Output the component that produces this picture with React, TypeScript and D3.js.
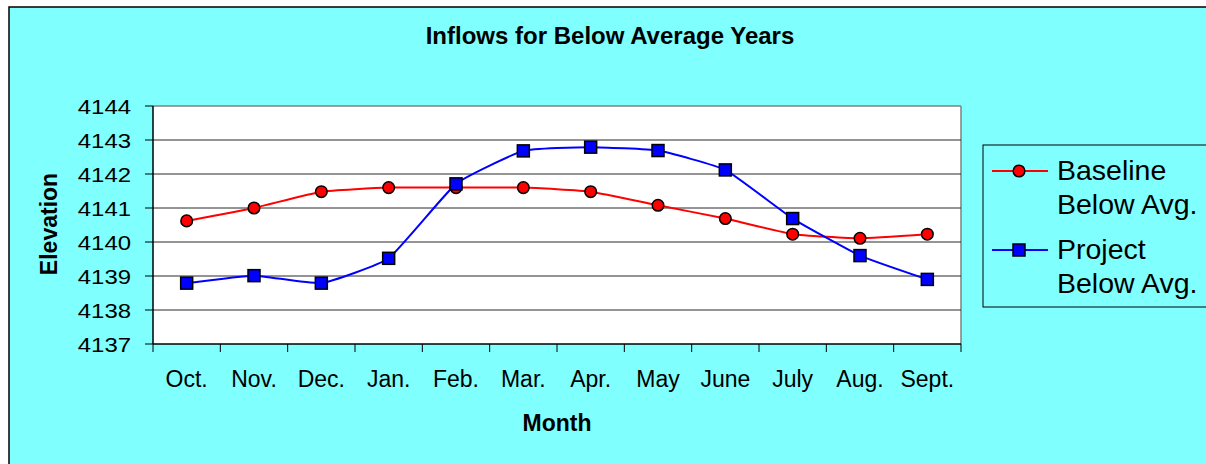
import React from 'react';
import * as d3 from 'd3';

const months = ['Oct.', 'Nov.', 'Dec.', 'Jan.', 'Feb.', 'Mar.', 'Apr.', 'May', 'June', 'July', 'Aug.', 'Sept.'];
const baseline = [4140.62, 4141.0, 4141.48, 4141.6, 4141.6, 4141.6, 4141.48, 4141.08, 4140.69, 4140.23, 4140.11, 4140.23];
const project = [4138.79, 4139.01, 4138.79, 4139.52, 4141.71, 4142.68, 4142.79, 4142.69, 4142.12, 4140.69, 4139.6, 4138.9];
const yTicks = [4137, 4138, 4139, 4140, 4141, 4142, 4143, 4144];
const legendLabels = [['Baseline', 'Below Avg.'], ['Project', 'Below Avg.']];

const W = 1206;
const H = 464;
const plot = { left: 153, right: 961, top: 106, bottom: 344 };
const font = '"Liberation Sans", Arial, sans-serif';

const App = () => {
  const x = d3.scaleBand().domain(months).range([plot.left, plot.right]).padding(0);
  const y = d3.scaleLinear().domain([4137, 4144]).range([plot.bottom, plot.top]);
  const cx = (m: string) => (x(m) as number) + x.bandwidth() / 2;

  // excel-style light smoothing
  const line = d3
    .line<number>()
    .x((_, i) => cx(months[i]))
    .y((d) => y(d))
    .curve(d3.curveCardinal.tension(0.6));

  const boundaries = months.map((m) => x(m) as number).concat([plot.right]);

  return (
    <svg width={W} height={H} style={{ position: 'absolute', left: 0, top: 0 }} fontFamily={font}>
      {/* chart area */}
      <rect x={9} y={7} width={W + 20} height={H + 20} fill="#80FFFF" stroke="#000" strokeWidth={1.5} />

      <text x={610} y={44} textAnchor="middle" fontSize={24} fontWeight="bold">
        Inflows for Below Average Years
      </text>

      {/* plot area */}
      <rect x={plot.left} y={plot.top} width={plot.right - plot.left} height={plot.bottom - plot.top} fill="#fff" />
      <line x1={plot.left} x2={plot.right} y1={plot.top} y2={plot.top} stroke="#808080" strokeWidth={1.5} />
      <line x1={plot.right} x2={plot.right} y1={plot.top} y2={plot.bottom} stroke="#808080" strokeWidth={1.5} />

      {yTicks.slice(1, -1).map((t) => (
        <line key={t} x1={plot.left} x2={plot.right} y1={y(t)} y2={y(t)} stroke="#2a2a2a" strokeWidth={1} />
      ))}

      {/* y axis */}
      <line x1={plot.left} x2={plot.left} y1={plot.top} y2={plot.bottom} stroke="#000" strokeWidth={1.5} />
      {yTicks.map((t) => (
        <g key={t}>
          <line x1={plot.left - 8} x2={plot.left} y1={y(t)} y2={y(t)} stroke="#000" strokeWidth={1} />
          <text
            transform={`translate(131,${y(t) + 7.5}) scale(1.14,1)`}
            textAnchor="end"
            fontSize={21}
          >
            {t}
          </text>
        </g>
      ))}

      {/* x axis */}
      <line x1={plot.left} x2={plot.right} y1={plot.bottom} y2={plot.bottom} stroke="#000" strokeWidth={1.5} />
      {boundaries.map((b, i) => (
        <line key={i} x1={b} x2={b} y1={plot.bottom} y2={plot.bottom + 8} stroke="#000" strokeWidth={1} />
      ))}
      {months.map((m) => (
        <text key={m} x={cx(m)} y={387} textAnchor="middle" fontSize={23}>
          {m}
        </text>
      ))}

      <text x={557} y={431} textAnchor="middle" fontSize={23} fontWeight="bold">
        Month
      </text>
      <text transform="translate(57,224) rotate(-90)" textAnchor="middle" fontSize={23} fontWeight="bold">
        Elevation
      </text>

      {/* series */}
      <path d={line(baseline) || ''} fill="none" stroke="#FF0000" strokeWidth={2} />
      <path d={line(project) || ''} fill="none" stroke="#0000FF" strokeWidth={2} />
      {baseline.map((v, i) => (
        <circle key={'b' + i} cx={cx(months[i])} cy={y(v)} r={5.8} fill="#FF0000" stroke="#000" strokeWidth={1.5} />
      ))}
      {project.map((v, i) => (
        <rect
          key={'p' + i}
          x={cx(months[i]) - 6}
          y={y(v) - 6}
          width={12}
          height={12}
          fill="#0000FF"
          stroke="#000"
          strokeWidth={1.5}
        />
      ))}

      {/* legend */}
      <rect x={983} y={145} width={260} height={162} fill="#80FFFF" stroke="#000" strokeWidth={1} />
      {legendLabels.map((lbl, i) => {
        const ly = i === 0 ? 171 : 250;
        const color = i === 0 ? '#FF0000' : '#0000FF';
        return (
          <g key={i}>
            <line x1={992} x2={1048} y1={ly} y2={ly} stroke={color} strokeWidth={2} />
            {i === 0 ? (
              <circle cx={1019} cy={ly} r={5.8} fill={color} stroke="#000" strokeWidth={1.5} />
            ) : (
              <rect x={1013} y={ly - 6} width={12} height={12} fill={color} stroke="#000" strokeWidth={1.5} />
            )}
            <text x={1057} y={ly + 8.5} fontSize={28.5}>
              {lbl[0]}
            </text>
            <text x={1057} y={ly + 43} fontSize={28.5}>
              {lbl[1]}
            </text>
          </g>
        );
      })}
    </svg>
  );
};

export default App;
